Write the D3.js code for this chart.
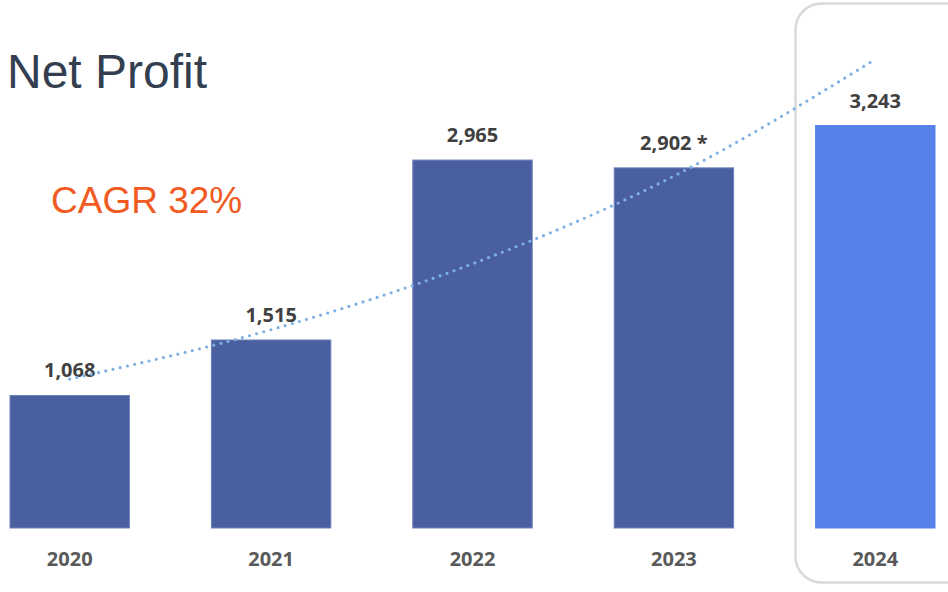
<!DOCTYPE html>
<html>
<head>
<meta charset="utf-8">
<script src="https://cdn.jsdelivr.net/npm/d3@7"></script>
<style>
  html, body { margin: 0; padding: 0; background: #ffffff; }
  svg { display: block; }
</style>
</head>
<body>
<svg id="chart" width="948" height="592"></svg>
<script>
// Net profit by year
const years = ["2020", "2021", "2022", "2023", "2024"];
const profit = [1068, 1515, 2965, 2902, 3243];
const valueLabels = ["1,068", "1,515", "2,965", "2,902 *", "3,243"];
// Exponential trendline values at each year
const trend = [1200, 1598, 2129, 2836, 3777];
const highlightYear = "2024";

const svg = d3.select("#chart");

const x = d3.scaleBand()
  .domain(years)
  .range([10, 935])
  .paddingInner(0.407)
  .paddingOuter(0);

const y = d3.scaleLinear()
  .domain([0, 4000])
  .range([528, 528 - 4000 * 0.1241]);

// Highlight frame around the latest year
svg.append("rect")
  .attr("x", 795.5)
  .attr("y", 3.5)
  .attr("width", 200)
  .attr("height", 579)
  .attr("rx", 26)
  .attr("fill", "none")
  .attr("stroke", "#d9d9d9")
  .attr("stroke-width", 2.5);

// Bars
svg.append("g")
  .selectAll("rect")
  .data(years)
  .join("rect")
  .attr("x", d => x(d))
  .attr("y", (d, i) => y(profit[i]))
  .attr("width", x.bandwidth())
  .attr("height", (d, i) => y(0) - y(profit[i]))
  .attr("fill", d => d === highlightYear ? "#5681E9" : "#4A5FA0")
  .attr("stroke", d => d === highlightYear ? "#5681E9" : "#6E82BC")
  .attr("stroke-width", 1);

// Value labels
svg.append("g")
  .selectAll("text")
  .data(years)
  .join("text")
  .attr("x", d => x(d) + x.bandwidth() / 2)
  .attr("y", (d, i) => y(profit[i]) - 18)
  .attr("text-anchor", "middle")
  .attr("font-family", "'Open Sans', sans-serif")
  .attr("font-weight", 700)
  .attr("font-size", 20)
  .attr("fill", "#404040")
  .text((d, i) => valueLabels[i]);

// Dotted exponential trendline
const line = d3.line()
  .x((d, i) => x(years[i]) + x.bandwidth() / 2)
  .y(d => y(d))
  .curve(d3.curveMonotoneX);

svg.append("path")
  .datum(trend)
  .attr("d", line)
  .attr("fill", "none")
  .attr("stroke", "#7FB0E2")
  .attr("stroke-width", 3.2)
  .attr("stroke-linecap", "round")
  .attr("stroke-dasharray", "0 7.4");

// Year axis
const xAxis = d3.axisBottom(x).tickSize(0).tickPadding(0);
const axisG = svg.append("g")
  .attr("transform", "translate(0,552)")
  .call(xAxis);
axisG.select(".domain").remove();
axisG.selectAll("text")
  .attr("dy", "0.71em")
  .attr("font-family", "'Open Sans', sans-serif")
  .attr("font-weight", 700)
  .attr("font-size", 20)
  .attr("fill", "#595959");

// Title
svg.append("text")
  .attr("x", 7)
  .attr("y", 88)
  .attr("font-family", "'Liberation Sans', Arial, sans-serif")
  .attr("font-size", 48)
  .attr("fill", "#333F50")
  .text("Net Profit");

// Growth annotation
svg.append("text")
  .attr("x", 51)
  .attr("y", 213)
  .attr("font-family", "'Liberation Sans', Arial, sans-serif")
  .attr("font-size", 37)
  .attr("fill", "#F15A22")
  .text("CAGR 32%");
</script>
</body>
</html>
